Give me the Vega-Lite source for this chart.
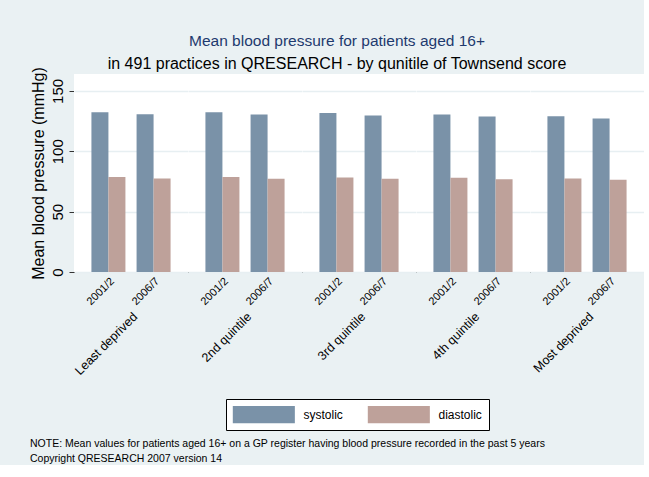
{
  "$schema": "https://vega.github.io/schema/vega-lite/v6.json",
  "background": "#EAF1F3",
  "padding": {"left": 30, "top": 34, "right": 0, "bottom": 0},
  "title": {
    "text": "Mean blood pressure for patients aged 16+",
    "subtitle": "in 491 practices in QRESEARCH - by qunitile of Townsend score",
    "color": "#1E3A6E",
    "subtitleColor": "#000000",
    "font": "Liberation Sans",
    "subtitleFont": "Liberation Sans",
    "fontSize": 15.5,
    "subtitleFontSize": 16,
    "fontWeight": "normal",
    "anchor": "middle",
    "offset": -5,
    "subtitlePadding": 6
  },
  "resolve": {"legend": {"color": "independent"}},
  "vconcat": [
    {
      "data": {
        "values": [
          {"category": "Least deprived", "year": "2001/2", "measure": "systolic", "value": 132.4},
          {"category": "Least deprived", "year": "2001/2", "measure": "diastolic", "value": 78.6},
          {"category": "Least deprived", "year": "2006/7", "measure": "systolic", "value": 130.7},
          {"category": "Least deprived", "year": "2006/7", "measure": "diastolic", "value": 77.5},
          {"category": "2nd quintile", "year": "2001/2", "measure": "systolic", "value": 132.4},
          {"category": "2nd quintile", "year": "2001/2", "measure": "diastolic", "value": 78.6},
          {"category": "2nd quintile", "year": "2006/7", "measure": "systolic", "value": 130.4},
          {"category": "2nd quintile", "year": "2006/7", "measure": "diastolic", "value": 77.3},
          {"category": "3rd quintile", "year": "2001/2", "measure": "systolic", "value": 131.8},
          {"category": "3rd quintile", "year": "2001/2", "measure": "diastolic", "value": 78.3},
          {"category": "3rd quintile", "year": "2006/7", "measure": "systolic", "value": 129.6},
          {"category": "3rd quintile", "year": "2006/7", "measure": "diastolic", "value": 77.2},
          {"category": "4th quintile", "year": "2001/2", "measure": "systolic", "value": 130.4},
          {"category": "4th quintile", "year": "2001/2", "measure": "diastolic", "value": 78.0},
          {"category": "4th quintile", "year": "2006/7", "measure": "systolic", "value": 128.8},
          {"category": "4th quintile", "year": "2006/7", "measure": "diastolic", "value": 76.9},
          {"category": "Most deprived", "year": "2001/2", "measure": "systolic", "value": 129.1},
          {"category": "Most deprived", "year": "2001/2", "measure": "diastolic", "value": 77.5},
          {"category": "Most deprived", "year": "2006/7", "measure": "systolic", "value": 127.2},
          {"category": "Most deprived", "year": "2006/7", "measure": "diastolic", "value": 76.5}
        ]
      },
      "title": {
        "text": ["NOTE: Mean values for patients aged 16+ on a GP register having blood pressure recorded in the past 5 years", "Copyright QRESEARCH 2007 version 14"],
        "orient": "bottom",
        "anchor": "start",
        "frame": "bounds",
        "font": "Liberation Sans",
        "fontSize": 10.5,
        "fontWeight": "normal",
        "color": "#000000",
        "lineHeight": 15.3,
        "offset": 8
      },
      "spacing": 0,
      "facet": {
        "column": {
          "field": "category",
          "type": "nominal",
          "sort": ["Least deprived", "2nd quintile", "3rd quintile", "4th quintile", "Most deprived"],
          "header": {
            "title": null,
            "labelOrient": "bottom",
            "labelAngle": -45,
            "labelAlign": "right",
            "labelBaseline": "top",
            "labelFont": "Liberation Sans",
            "labelFontSize": 12.5,
            "labelColor": "#000000",
            "labelPadding": 4
          }
        }
      },
      "spec": {
        "width": 114,
        "height": 198,
        "mark": {"type": "bar"},
        "encoding": {
          "x": {
            "field": "year",
            "type": "nominal",
            "sort": ["2001/2", "2006/7"],
            "scale": {"paddingInner": 0.247, "paddingOuter": 0.386},
            "axis": {
              "title": null,
              "labelAngle": -45,
              "labelAlign": "right",
              "labelBaseline": "top",
              "labelFont": "Liberation Sans",
              "labelFontSize": 11,
              "labelColor": "#000000",
              "labelPadding": 3,
              "ticks": false,
              "domainColor": "#000000",
              "domainWidth": 1.2,
              "grid": false
            }
          },
          "xOffset": {
            "field": "measure",
            "type": "nominal",
            "sort": ["systolic", "diastolic"],
            "scale": {"paddingInner": 0, "paddingOuter": 0}
          },
          "y": {
            "field": "value",
            "type": "quantitative",
            "scale": {"domain": [0, 164], "nice": false, "zero": true},
            "axis": {
              "title": "Mean blood pressure (mmHg)",
              "titleFont": "Liberation Sans",
              "titleFontSize": 16,
              "titleFontWeight": "normal",
              "titleColor": "#000000",
              "titlePadding": 4,
              "values": [0, 50, 100, 150],
              "labelAngle": -90,
              "labelAlign": "center",
              "labelBaseline": "bottom",
              "labelFont": "Liberation Sans",
              "labelFontSize": 15,
              "labelColor": "#000000",
              "labelPadding": 4,
              "tickSize": 5,
              "tickColor": "#333333",
              "domainColor": "#333333",
              "domainWidth": 1,
              "gridColor": "#E7EFF2",
              "gridWidth": 1.5
            }
          },
          "color": {
            "field": "measure",
            "type": "nominal",
            "sort": ["systolic", "diastolic"],
            "scale": {"domain": ["systolic", "diastolic"], "range": ["#7A92A8", "#BEA19A"]},
            "legend": {
              "title": null,
              "orient": "none",
              "legendX": 152,
              "legendY": 325,
              "direction": "horizontal",
              "symbolType": "M-1,-1H6.13V1H-1Z",
              "symbolSize": 303,
              "symbolStrokeWidth": 0,
              "labelFont": "Liberation Sans",
              "labelFontSize": 12,
              "labelColor": "#000000",
              "labelOffset": 53,
              "columnPadding": 24,
              "padding": 6.5,
              "strokeColor": "#000000",
              "fillColor": "#FFFFFF"
            }
          }
        }
      }
    }
  ],
  "config": {
    "view": {"stroke": null, "fill": "#FFFFFF"},
    "font": "Liberation Sans"
  }
}
